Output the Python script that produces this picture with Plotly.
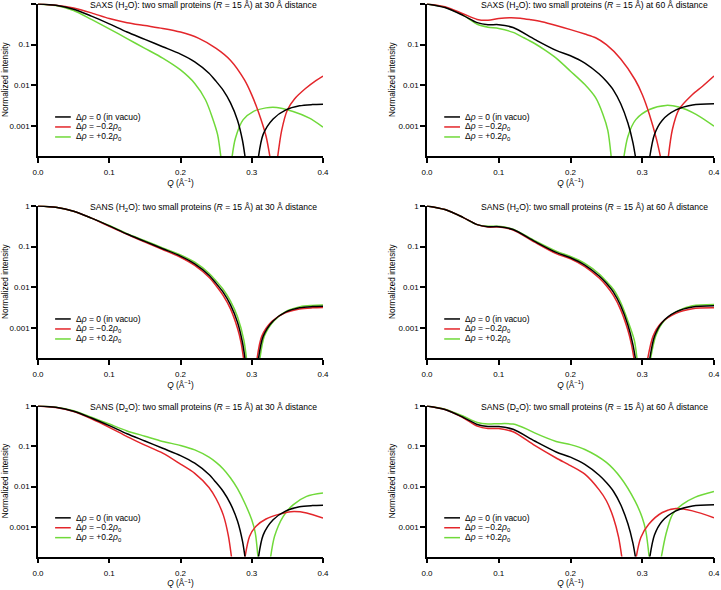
import plotly.graph_objects as go

# ---------------- data ----------------
Q_TICKS = [0, 0.1, 0.2, 0.3, 0.4]
Q_TICK_LABELS = ["0.0", "0.1", "0.2", "0.3", "0.4"]
I_TICKS = [1, 0.1, 0.01, 0.001]
I_TICK_LABELS = ["1", "0.1", "0.01", "0.001"]

SERIES_NAMES = [
    "Δ<i>ρ</i> = 0 (in vacuo)",
    "Δ<i>ρ</i> = −0.2<i>ρ</i><sub>0</sub>",
    "Δ<i>ρ</i> = +0.2<i>ρ</i><sub>0</sub>",
]

PANEL_TITLES = [
    "SAXS (H<sub>2</sub>O): two small proteins (<i>R</i> = 15 Å) at 30 Å distance",
    "SAXS (H<sub>2</sub>O): two small proteins (<i>R</i> = 15 Å) at 60 Å distance",
    "SANS (H<sub>2</sub>O): two small proteins (<i>R</i> = 15 Å) at 30 Å distance",
    "SANS (H<sub>2</sub>O): two small proteins (<i>R</i> = 15 Å) at 60 Å distance",
    "SANS (D<sub>2</sub>O): two small proteins (<i>R</i> = 15 Å) at 30 Å distance",
    "SANS (D<sub>2</sub>O): two small proteins (<i>R</i> = 15 Å) at 60 Å distance",
]

# in vacuo (black), 30 Å and 60 Å distance
q_vac30 = [0, 0.025, 0.05, 0.075, 0.1, 0.125, 0.15, 0.175, 0.2, 0.22, 0.24, 0.25, 0.26, 0.27, 0.28, 0.287, 0.291, None,
           0.309, 0.316, 0.33, 0.348, 0.367, 0.385, 0.4]
i_vac30 = [1, 0.923, 0.741, 0.501, 0.324, 0.204, 0.135, 0.0891, 0.0589, 0.038, 0.02, 0.0126, 0.00759, 0.0038, 0.00141,
           0.000447, 0.000158, None, 0.000158, 0.000631, 0.00151, 0.00251, 0.00316, 0.00339, 0.00347]
q_vac60 = [0, 0.025, 0.05, 0.07, 0.085, 0.1, 0.12, 0.15, 0.18, 0.2, 0.22, 0.24, 0.25, 0.26, 0.27, 0.28, 0.287, 0.291, None,
           0.31, 0.317, 0.328, 0.347, 0.37, 0.4]
i_vac60 = [1, 0.813, 0.525, 0.347, 0.309, 0.309, 0.263, 0.135, 0.0724, 0.0537, 0.0355, 0.0191, 0.0126, 0.00759, 0.00355,
           0.0012, 0.000398, 0.000158, None, 0.000158, 0.000631, 0.00141, 0.00251, 0.00331, 0.00355]

# SAXS (H2O), 30 Å
q_saxs30_neg = [0, 0.025, 0.05, 0.075, 0.1, 0.125, 0.15, 0.175, 0.2, 0.225, 0.25, 0.27, 0.29, 0.3, 0.31, 0.32, 0.326, None,
                0.336, 0.342, 0.35, 0.36, 0.375, 0.39, 0.4]
i_saxs30_neg = [1, 0.933, 0.794, 0.603, 0.437, 0.347, 0.295, 0.251, 0.204, 0.145, 0.0813, 0.0417, 0.0135, 0.00589, 0.00209,
                0.000575, 0.000158, None, 0.000158, 0.000794, 0.00251, 0.00468, 0.00832, 0.0132, 0.017]
q_saxs30_pos = [0, 0.025, 0.05, 0.075, 0.1, 0.125, 0.15, 0.175, 0.2, 0.22, 0.235, 0.245, 0.252, 0.257, None,
                0.272, 0.277, 0.288, 0.302, 0.32, 0.335, 0.358, 0.381, 0.4]
i_saxs30_pos = [1, 0.912, 0.692, 0.417, 0.245, 0.141, 0.0813, 0.0468, 0.024, 0.0112, 0.00447, 0.00158, 0.000631, 0.000158,
                None, 0.000158, 0.000501, 0.00145, 0.00229, 0.00282, 0.00288, 0.00229, 0.00158, 0.000955]

# SAXS (H2O), 60 Å
q_saxs60_neg = [0, 0.025, 0.05, 0.07, 0.085, 0.1, 0.115, 0.13, 0.145, 0.16, 0.18, 0.2, 0.22, 0.235, 0.25, 0.27, 0.29, 0.3,
                0.31, 0.32, 0.326, None, 0.336, 0.342, 0.351, 0.37, 0.384, 0.4]
i_saxs60_neg = [1, 0.851, 0.575, 0.417, 0.398, 0.437, 0.457, 0.447, 0.407, 0.363, 0.295, 0.234, 0.182, 0.148, 0.1, 0.0447,
                0.0138, 0.00603, 0.00195, 0.000468, 0.000158, None, 0.000158, 0.000832, 0.00257, 0.00603, 0.00955, 0.017]
q_saxs60_pos = [0, 0.025, 0.05, 0.07, 0.085, 0.1, 0.12, 0.135, 0.15, 0.165, 0.18, 0.2, 0.22, 0.235, 0.245, 0.252, 0.257,
                None, 0.274, 0.28, 0.291, 0.31, 0.333, 0.351, 0.375, 0.4]
i_saxs60_pos = [1, 0.832, 0.537, 0.316, 0.269, 0.251, 0.2, 0.148, 0.107, 0.0724, 0.0468, 0.0224, 0.0105, 0.00501, 0.002,
                0.000794, 0.000158, None, 0.000158, 0.000562, 0.00145, 0.00257, 0.00324, 0.00295, 0.00195, 0.001]

# SANS (H2O), 30 Å
q_sansh30_neg = [0, 0.025, 0.05, 0.075, 0.1, 0.125, 0.15, 0.175, 0.2, 0.22, 0.24, 0.25, 0.26, 0.27, 0.28, 0.285, 0.289, None,
                 0.307, 0.314, 0.328, 0.346, 0.367, 0.385, 0.4]
i_sansh30_neg = [1, 0.923, 0.741, 0.501, 0.316, 0.2, 0.129, 0.0851, 0.055, 0.0347, 0.0178, 0.011, 0.00631, 0.00302, 0.001,
                 0.000447, 0.000158, None, 0.000158, 0.000631, 0.00145, 0.00234, 0.00295, 0.00316, 0.00324]
q_sansh30_pos = [0, 0.025, 0.05, 0.075, 0.1, 0.125, 0.15, 0.175, 0.2, 0.22, 0.24, 0.25, 0.26, 0.27, 0.28, 0.289, 0.293, None,
                 0.311, 0.318, 0.332, 0.35, 0.368, 0.385, 0.4]
i_sansh30_pos = [1, 0.923, 0.741, 0.501, 0.331, 0.209, 0.141, 0.0933, 0.0631, 0.0417, 0.0224, 0.0145, 0.00891, 0.00468,
                 0.00191, 0.000501, 0.000158, None, 0.000158, 0.000661, 0.00158, 0.00269, 0.00339, 0.00363, 0.00372]

# SANS (H2O), 60 Å
q_sansh60_neg = [0, 0.025, 0.05, 0.07, 0.085, 0.1, 0.12, 0.15, 0.18, 0.2, 0.22, 0.24, 0.25, 0.26, 0.27, 0.28, 0.285, 0.289,
                 None, 0.307, 0.315, 0.326, 0.346, 0.37, 0.4]
i_sansh60_neg = [1, 0.813, 0.525, 0.347, 0.302, 0.302, 0.257, 0.129, 0.0676, 0.0501, 0.0324, 0.017, 0.011, 0.00631, 0.00282,
                 0.000891, 0.000398, 0.000158, None, 0.000158, 0.000631, 0.00132, 0.00229, 0.00302, 0.00316]
q_sansh60_pos = [0, 0.025, 0.05, 0.07, 0.085, 0.1, 0.12, 0.15, 0.18, 0.2, 0.22, 0.24, 0.25, 0.26, 0.27, 0.28, 0.289, 0.293,
                 None, 0.311, 0.319, 0.33, 0.349, 0.37, 0.4]
i_sansh60_pos = [1, 0.813, 0.525, 0.347, 0.316, 0.316, 0.269, 0.141, 0.0776, 0.0575, 0.039, 0.0214, 0.0141, 0.00891,
                 0.00427, 0.00151, 0.000501, 0.000158, None, 0.000158, 0.000661, 0.00148, 0.00263, 0.00355, 0.0038]

# SANS (D2O), 30 Å
q_sansd30_neg = [0, 0.025, 0.05, 0.075, 0.1, 0.125, 0.15, 0.175, 0.2, 0.22, 0.24, 0.25, 0.26, 0.267, 0.272, None,
                 0.29, 0.297, 0.306, 0.32, 0.339, 0.355, 0.377, 0.4]
i_sansd30_neg = [1, 0.912, 0.724, 0.479, 0.295, 0.174, 0.107, 0.0676, 0.0363, 0.0214, 0.00955, 0.00501, 0.002, 0.000631,
                 0.000158, None, 0.000158, 0.000589, 0.00105, 0.00158, 0.00209, 0.0024, 0.00224, 0.00166]
q_sansd30_pos = [0, 0.025, 0.05, 0.075, 0.1, 0.125, 0.15, 0.175, 0.2, 0.22, 0.24, 0.25, 0.26, 0.27, 0.28, 0.29, 0.3, 0.305,
                 0.309, None, 0.326, 0.332, 0.344, 0.358, 0.377, 0.4]
i_sansd30_pos = [1, 0.933, 0.759, 0.525, 0.355, 0.24, 0.178, 0.132, 0.105, 0.0813, 0.0537, 0.0398, 0.0275, 0.0166, 0.00891,
                 0.00398, 0.00151, 0.000708, 0.000158, None, 0.000158, 0.000589, 0.00182, 0.00355, 0.00575, 0.00692]

# SANS (D2O), 60 Å
q_sansd60_neg = [0, 0.025, 0.05, 0.07, 0.085, 0.1, 0.12, 0.15, 0.18, 0.2, 0.22, 0.24, 0.25, 0.26, 0.267, 0.272, None,
                 0.291, 0.298, 0.309, 0.328, 0.347, 0.37, 0.4]
i_sansd60_neg = [1, 0.813, 0.513, 0.316, 0.275, 0.275, 0.229, 0.105, 0.0513, 0.0331, 0.0204, 0.00832, 0.00447, 0.00166,
                 0.000562, 0.000158, None, 0.000158, 0.00055, 0.00117, 0.00229, 0.00288, 0.00251, 0.0017]
q_sansd60_pos = [0, 0.025, 0.05, 0.07, 0.085, 0.1, 0.12, 0.14, 0.15, 0.18, 0.2, 0.22, 0.25, 0.27, 0.29, 0.3, 0.305, 0.31,
                 None, 0.326, 0.333, 0.342, 0.356, 0.374, 0.4]
i_sansd60_pos = [1, 0.832, 0.562, 0.389, 0.355, 0.363, 0.355, 0.263, 0.214, 0.132, 0.11, 0.0832, 0.0398, 0.0166, 0.00437,
                 0.0017, 0.000794, 0.000158, None, 0.000158, 0.000661, 0.00204, 0.00363, 0.0055, 0.00759]

PANELS = [
    [(q_vac30, i_vac30), (q_saxs30_neg, i_saxs30_neg), (q_saxs30_pos, i_saxs30_pos)],
    [(q_vac60, i_vac60), (q_saxs60_neg, i_saxs60_neg), (q_saxs60_pos, i_saxs60_pos)],
    [(q_vac30, i_vac30), (q_sansh30_neg, i_sansh30_neg), (q_sansh30_pos, i_sansh30_pos)],
    [(q_vac60, i_vac60), (q_sansh60_neg, i_sansh60_neg), (q_sansh60_pos, i_sansh60_pos)],
    [(q_vac30, i_vac30), (q_sansd30_neg, i_sansd30_neg), (q_sansd30_pos, i_sansd30_pos)],
    [(q_vac60, i_vac60), (q_sansd60_neg, i_sansd60_neg), (q_sansd60_pos, i_sansd60_pos)],
]

# ---------------- style / layout ----------------
W, H = 721, 590
COLORS = ["#000000", "#e3262b", "#70d93a"]
FONT = "Liberation Sans, Arial, sans-serif"
COL_PX = [(38, 323), (427, 714)]
ROW_PX = [(3.5, 156), (205.5, 358), (405.5, 556.5)]

fig = go.Figure()
layout = dict(
    width=W, height=H, margin=dict(l=0, r=0, t=0, b=0, autoexpand=False),
    paper_bgcolor="white", plot_bgcolor="white",
    font=dict(family=FONT, size=8, color="black"),
    showlegend=False, annotations=[], shapes=[],
)

for p, series in enumerate(PANELS):
    r, c = divmod(p, 2)
    n = p + 1
    xa = "x" if n == 1 else f"x{n}"
    ya = "y" if n == 1 else f"y{n}"
    xkey = "xaxis" if n == 1 else f"xaxis{n}"
    ykey = "yaxis" if n == 1 else f"yaxis{n}"
    x0, x1 = COL_PX[c]
    t, b = ROW_PX[r]
    layout[xkey] = dict(
        domain=[x0 / W, x1 / W], anchor=ya, range=[0, 0.4], automargin=False,
        tickvals=Q_TICKS, ticktext=Q_TICK_LABELS,
        ticks="outside", ticklen=5, tickwidth=1.5, tickcolor="black",
        ticklabelstandoff=3,
        showline=True, linecolor="black", linewidth=1.5,
        showgrid=False, zeroline=False, tickfont=dict(size=8),
        title=dict(text="<i>Q</i> (Å<sup>−1</sup>)", font=dict(size=8.3), standoff=1),
    )
    layout[ykey] = dict(
        domain=[1 - b / H, 1 - t / H], anchor=xa, type="log", range=[-3.73, 0.01], automargin=False,
        tickvals=I_TICKS, ticktext=I_TICK_LABELS,
        ticks="outside", ticklen=5, tickwidth=1.5, tickcolor="black",
        showline=True, linecolor="black", linewidth=1.5,
        showgrid=False, zeroline=False, tickfont=dict(size=8),
        title=dict(text="Normalized intensity", font=dict(size=8.3), standoff=2),
    )
    for k in [2, 1, 0]:
        q, inten = series[k]
        fig.add_trace(go.Scatter(
            x=q, y=inten, mode="lines", xaxis=xa, yaxis=ya,
            line=dict(color=COLORS[k], width=1.5, shape="spline", smoothing=0.8),
            connectgaps=False, hoverinfo="skip", showlegend=False,
        ))
    # panel title
    layout["annotations"].append(dict(
        text=PANEL_TITLES[p], xref=f"{xa} domain", yref=f"{ya} domain",
        x=1, y=1, xanchor="right", yanchor="middle", xshift=-4, yshift=-2,
        showarrow=False, font=dict(size=8.6),
    ))
    # legend (key line + label)
    for k in range(3):
        yy = 0.256 - k * 0.0656
        layout["shapes"].append(dict(
            type="line", xref=f"{xa} domain", yref=f"{ya} domain",
            x0=0.06, x1=0.115, y0=yy, y1=yy,
            line=dict(color=COLORS[k], width=1.5),
        ))
        layout["annotations"].append(dict(
            text=SERIES_NAMES[k], xref=f"{xa} domain", yref=f"{ya} domain",
            x=0.125, y=yy, xanchor="left", yanchor="middle",
            showarrow=False, font=dict(size=8.5),
        ))

fig.update_layout(**layout)
fig.write_html(
    "out.html",
    config={"displayModeBar": False},
    post_script="document.body.style.margin='0';document.body.style.overflow='hidden';",
)
